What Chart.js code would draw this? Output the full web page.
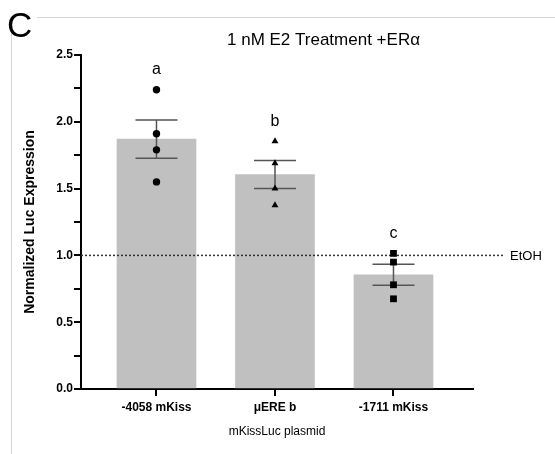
<!DOCTYPE html>
<html>
<head>
<meta charset="utf-8">
<script src="https://cdn.jsdelivr.net/npm/chart.js@4.4.0/dist/chart.umd.min.js"></script>
<style>
  html, body { margin: 0; padding: 0; background: #fff; }
</style>
</head>
<body>
<canvas id="myChart" width="555" height="454"></canvas>
<script>
const plasmids = ['-4058 mKiss', 'μERE b', '-1711 mKiss'];
const meanExpr = [1.87, 1.605, 0.855];
const semExpr = [0.143, 0.105, 0.078];
const repsKiss4058 = [2.24, 1.91, 1.79, 1.55];
const repsMuERE = [1.855, 1.69, 1.50, 1.375];
const repsKiss1711 = [1.015, 0.95, 0.78, 0.675];
const sigLetters = ['a', 'b', 'c'];
const etohLevel = 1.0;
const yMax = 2.5;
const yStep = 0.25;

const FONT = '"Liberation Sans", Arial, Helvetica, sans-serif';
const replicateSets = [repsKiss4058, repsMuERE, repsKiss1711];
const markerStyles = ['circle', 'triangle', 'rect'];
const markerSizes = [3.7, 4, 4.8];

const extras = {
    id: 'extras',
    afterDatasetDraw(chart, args) {
        if (args.index !== 0) return;
        const ctx = chart.ctx;
        const x = chart.scales.x;
        const y = chart.scales.y;
        ctx.save();
        // EtOH reference line
        const ey = y.getPixelForValue(etohLevel);
        ctx.strokeStyle = '#333';
        ctx.lineWidth = 1.5;
        ctx.setLineDash([2, 2]);
        ctx.beginPath();
        ctx.moveTo(chart.chartArea.left, ey);
        ctx.lineTo(chart.chartArea.right + 32, ey);
        ctx.stroke();
        ctx.setLineDash([]);
        // error bars (mean +/- sem)
        ctx.strokeStyle = '#555';
        ctx.lineWidth = 1.5;
        meanExpr.forEach((m, i) => {
            const px = x.getPixelForValue(i);
            const top = y.getPixelForValue(m + semExpr[i]);
            const bot = y.getPixelForValue(m - semExpr[i]);
            ctx.beginPath();
            ctx.moveTo(px, top); ctx.lineTo(px, bot);
            ctx.moveTo(px - 21, top); ctx.lineTo(px + 21, top);
            ctx.moveTo(px - 21, bot); ctx.lineTo(px + 21, bot);
            ctx.stroke();
        });
        ctx.restore();
    },
    afterDraw(chart) {
        const ctx = chart.ctx;
        const x = chart.scales.x;
        const y = chart.scales.y;
        ctx.save();
        // panel frame
        ctx.strokeStyle = '#d4d4d4';
        ctx.lineWidth = 1;
        ctx.beginPath();
        ctx.moveTo(37, 17.5); ctx.lineTo(555, 17.5);
        ctx.moveTo(11.5, 32); ctx.lineTo(11.5, 454);
        ctx.stroke();

        ctx.fillStyle = '#000';
        ctx.textBaseline = 'alphabetic';
        ctx.textAlign = 'left';
        ctx.font = '35px ' + FONT;
        ctx.fillText('C', 7, 37);

        ctx.textAlign = 'center';
        ctx.font = '17px ' + FONT;
        ctx.fillText('1 nM E2 Treatment +ERα', 323.5, 45);

        // significance letters
        ctx.font = '16px ' + FONT;
        ctx.textBaseline = 'middle';
        sigLetters.forEach((l, i) => {
            const top = y.getPixelForValue(Math.max(...replicateSets[i]));
            ctx.fillText(l, x.getPixelForValue(i), top - 20);
        });

        ctx.textAlign = 'left';
        ctx.font = '13px ' + FONT;
        ctx.fillText('EtOH', chart.chartArea.right + 37, y.getPixelForValue(etohLevel) + 1);
        ctx.restore();
    }
};

const datasets = [{
    type: 'bar',
    data: meanExpr.map((v, i) => ({ x: i, y: v })),
    backgroundColor: '#c0c0c0',
    barThickness: 79,
    order: 2
}];
replicateSets.forEach((reps, i) => {
    datasets.push({
        type: 'scatter',
        data: reps.map(v => ({ x: i, y: v })),
        pointStyle: markerStyles[i],
        pointRadius: markerSizes[i],
        backgroundColor: '#000',
        borderColor: '#000',
        borderWidth: 0,
        order: 1
    });
});

const myChart = new Chart(document.getElementById('myChart').getContext('2d'), {
    type: 'bar',
    data: { datasets: datasets },
    plugins: [extras],
    options: {
        responsive: false,
        animation: false,
        devicePixelRatio: 1,
        layout: { padding: { top: 55, right: 82, left: 0, bottom: 0 } },
        plugins: {
            legend: { display: false },
            tooltip: { enabled: false }
        },
        scales: {
            x: {
                type: 'linear',
                offset: false,
                min: -0.637,
                max: 2.671,
                afterBuildTicks: s => { s.ticks = plasmids.map((_, i) => ({ value: i })); },
                afterFit: s => { s.height = 65; },
                ticks: {
                    callback: v => plasmids[v],
                    color: '#000',
                    font: { family: FONT, size: 12, weight: 'bold' },
                    padding: 4,
                    maxRotation: 0,
                    autoSkip: false
                },
                grid: { offset: false, drawOnChartArea: false, tickLength: 7, color: '#000', lineWidth: 2 },
                border: { color: '#000', width: 2 },
                title: {
                    display: true,
                    text: 'mKissLuc plasmid',
                    color: '#000',
                    font: { family: FONT, size: 12 },
                    padding: { top: 0, bottom: 15 }
                }
            },
            y: {
                min: 0,
                max: yMax,
                afterFit: s => { s.width = 81; },
                ticks: {
                    stepSize: yStep,
                    callback: v => Math.abs(v * 2 - Math.round(v * 2)) < 1e-6 ? v.toFixed(1) : '',
                    color: '#000',
                    font: { family: FONT, size: 12, weight: 'bold' },
                    padding: 1,
                    autoSkip: false
                },
                grid: { drawOnChartArea: false, tickLength: 7, color: '#000', lineWidth: 2 },
                border: { color: '#000', width: 2 },
                title: {
                    display: true,
                    text: 'Normalized Luc Expression',
                    color: '#000',
                    font: { family: FONT, size: 14, weight: 'bold' },
                    padding: { top: 22, bottom: 0 }
                }
            }
        }
    }
});
</script>
</body>
</html>
